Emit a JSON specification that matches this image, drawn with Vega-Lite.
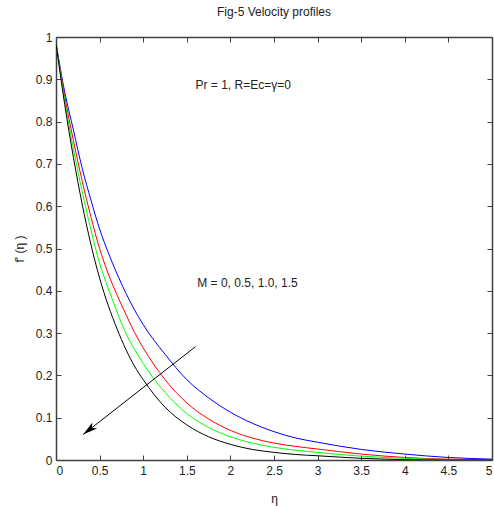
{
  "$schema": "https://vega.github.io/schema/vega-lite/v6.json",
  "width": 436,
  "height": 423,
  "autosize": {"type": "none"},
  "padding": {"left": 56, "top": 37, "right": 2, "bottom": 46},
  "background": "white",
  "title": {"text": "Fig-5 Velocity profiles", "font": "Liberation Sans", "fontSize": 12, "fontWeight": "normal", "color": "#222", "anchor": "middle", "offset": 12},
  "config": {
    "view": {"stroke": null},
    "axis": {"domainColor": "#404040", "tickColor": "#404040", "labelColor": "#222", "labelFont": "Liberation Sans", "labelFontSize": 12, "titleFont": "Liberation Sans", "titleFontSize": 12, "titleFontWeight": "normal", "titleColor": "#222", "grid": false, "tickSize": -5, "domainWidth": 1.5}
  },
  "datasets": {
    "curves": [
      {"M": "0", "eta": 0, "f": 0.985}, {"M": "0", "eta": 0.1, "f": 0.87}, {"M": "0", "eta": 0.2, "f": 0.78}, {"M": "0", "eta": 0.3, "f": 0.69}, {"M": "0", "eta": 0.4, "f": 0.615}, {"M": "0", "eta": 0.5, "f": 0.546}, {"M": "0", "eta": 0.6, "f": 0.49}, {"M": "0", "eta": 0.7, "f": 0.44}, {"M": "0", "eta": 0.8, "f": 0.395}, {"M": "0", "eta": 0.9, "f": 0.355}, {"M": "0", "eta": 1.0, "f": 0.32}, {"M": "0", "eta": 1.25, "f": 0.25}, {"M": "0", "eta": 1.5, "f": 0.19}, {"M": "0", "eta": 1.75, "f": 0.147}, {"M": "0", "eta": 2.0, "f": 0.113}, {"M": "0", "eta": 2.25, "f": 0.087}, {"M": "0", "eta": 2.5, "f": 0.067}, {"M": "0", "eta": 2.75, "f": 0.052}, {"M": "0", "eta": 3.0, "f": 0.042}, {"M": "0", "eta": 3.5, "f": 0.025}, {"M": "0", "eta": 4.0, "f": 0.014}, {"M": "0", "eta": 4.5, "f": 0.006}, {"M": "0", "eta": 5.0, "f": 0.002},
      {"M": "0.5", "eta": 0, "f": 0.985}, {"M": "0.5", "eta": 0.1, "f": 0.86}, {"M": "0.5", "eta": 0.2, "f": 0.755}, {"M": "0.5", "eta": 0.3, "f": 0.66}, {"M": "0.5", "eta": 0.4, "f": 0.575}, {"M": "0.5", "eta": 0.5, "f": 0.5}, {"M": "0.5", "eta": 0.6, "f": 0.44}, {"M": "0.5", "eta": 0.7, "f": 0.39}, {"M": "0.5", "eta": 0.8, "f": 0.345}, {"M": "0.5", "eta": 0.9, "f": 0.302}, {"M": "0.5", "eta": 1.0, "f": 0.265}, {"M": "0.5", "eta": 1.25, "f": 0.19}, {"M": "0.5", "eta": 1.5, "f": 0.135}, {"M": "0.5", "eta": 1.75, "f": 0.097}, {"M": "0.5", "eta": 2.0, "f": 0.07}, {"M": "0.5", "eta": 2.25, "f": 0.052}, {"M": "0.5", "eta": 2.5, "f": 0.04}, {"M": "0.5", "eta": 2.75, "f": 0.032}, {"M": "0.5", "eta": 3.0, "f": 0.026}, {"M": "0.5", "eta": 3.5, "f": 0.014}, {"M": "0.5", "eta": 4.0, "f": 0.006}, {"M": "0.5", "eta": 4.5, "f": 0.002}, {"M": "0.5", "eta": 5.0, "f": 0.001},
      {"M": "1.0", "eta": 0, "f": 0.985}, {"M": "1.0", "eta": 0.1, "f": 0.85}, {"M": "1.0", "eta": 0.2, "f": 0.735}, {"M": "1.0", "eta": 0.3, "f": 0.635}, {"M": "1.0", "eta": 0.4, "f": 0.545}, {"M": "1.0", "eta": 0.5, "f": 0.465}, {"M": "1.0", "eta": 0.6, "f": 0.405}, {"M": "1.0", "eta": 0.7, "f": 0.35}, {"M": "1.0", "eta": 0.8, "f": 0.3}, {"M": "1.0", "eta": 0.9, "f": 0.262}, {"M": "1.0", "eta": 1.0, "f": 0.228}, {"M": "1.0", "eta": 1.25, "f": 0.16}, {"M": "1.0", "eta": 1.5, "f": 0.11}, {"M": "1.0", "eta": 1.75, "f": 0.077}, {"M": "1.0", "eta": 2.0, "f": 0.055}, {"M": "1.0", "eta": 2.25, "f": 0.04}, {"M": "1.0", "eta": 2.5, "f": 0.03}, {"M": "1.0", "eta": 2.75, "f": 0.023}, {"M": "1.0", "eta": 3.0, "f": 0.018}, {"M": "1.0", "eta": 3.5, "f": 0.009}, {"M": "1.0", "eta": 4.0, "f": 0.004}, {"M": "1.0", "eta": 4.5, "f": 0.001}, {"M": "1.0", "eta": 5.0, "f": 0.0},
      {"M": "1.5", "eta": 0, "f": 0.985}, {"M": "1.5", "eta": 0.1, "f": 0.84}, {"M": "1.5", "eta": 0.2, "f": 0.715}, {"M": "1.5", "eta": 0.3, "f": 0.605}, {"M": "1.5", "eta": 0.4, "f": 0.51}, {"M": "1.5", "eta": 0.5, "f": 0.43}, {"M": "1.5", "eta": 0.6, "f": 0.365}, {"M": "1.5", "eta": 0.7, "f": 0.31}, {"M": "1.5", "eta": 0.8, "f": 0.262}, {"M": "1.5", "eta": 0.9, "f": 0.222}, {"M": "1.5", "eta": 1.0, "f": 0.19}, {"M": "1.5", "eta": 1.25, "f": 0.125}, {"M": "1.5", "eta": 1.5, "f": 0.083}, {"M": "1.5", "eta": 1.75, "f": 0.055}, {"M": "1.5", "eta": 2.0, "f": 0.037}, {"M": "1.5", "eta": 2.25, "f": 0.025}, {"M": "1.5", "eta": 2.5, "f": 0.018}, {"M": "1.5", "eta": 2.75, "f": 0.013}, {"M": "1.5", "eta": 3.0, "f": 0.01}, {"M": "1.5", "eta": 3.5, "f": 0.004}, {"M": "1.5", "eta": 4.0, "f": 0.001}, {"M": "1.5", "eta": 4.5, "f": 0.0}, {"M": "1.5", "eta": 5.0, "f": 0.0}
    ],
    "arrow": [{"eta": 1.6, "f": 0.268}, {"eta": 0.31, "f": 0.06}],
    "head": [{"eta": 0.31, "f": 0.06}],
    "notes": [
      {"label": "Pr = 1, R=Ec=γ=0", "eta": 1.6, "f": 0.887},
      {"label": "M = 0, 0.5, 1.0, 1.5", "eta": 1.62, "f": 0.418}
    ]
  },
  "resolve": {"axis": {"x": "independent", "y": "independent"}},
  "layer": [
    {
      "data": {"name": "curves"},
      "mark": {"type": "line", "strokeWidth": 1, "clip": true, "interpolate": "monotone"},
      "encoding": {
        "x": {"field": "eta", "type": "quantitative", "scale": {"domain": [0, 5], "nice": false, "zero": false}, "axis": {"title": "η", "values": [0, 0.5, 1, 1.5, 2, 2.5, 3, 3.5, 4, 4.5, 5], "format": "~g", "labelPadding": 10, "titlePadding": 17}},
        "y": {"field": "f", "type": "quantitative", "scale": {"domain": [0, 1], "nice": false}, "axis": {"title": "f' (η )", "values": [0, 0.1, 0.2, 0.3, 0.4, 0.5, 0.6, 0.7, 0.8, 0.9, 1], "format": "~g", "labelPadding": 9, "titlePadding": 9}},
        "color": {"field": "M", "type": "nominal", "scale": {"domain": ["0", "0.5", "1.0", "1.5"], "range": ["#0000FF", "#FF0000", "#00FF00", "#000000"]}, "legend": null}
      }
    },
    {
      "data": {"name": "arrow"},
      "mark": {"type": "line", "color": "#000000", "strokeWidth": 1},
      "encoding": {
        "x": {"field": "eta", "type": "quantitative", "axis": {"orient": "top", "title": null, "labels": false, "values": [0, 0.5, 1, 1.5, 2, 2.5, 3, 3.5, 4, 4.5, 5]}},
        "y": {"field": "f", "type": "quantitative", "axis": {"orient": "right", "title": null, "labels": false, "values": [0, 0.1, 0.2, 0.3, 0.4, 0.5, 0.6, 0.7, 0.8, 0.9, 1]}}
      }
    },
    {
      "data": {"name": "head"},
      "mark": {"type": "point", "shape": "M0,0L0.35,1.4L0,1.05L-0.35,1.4Z", "filled": true, "color": "#000000", "size": 450, "angle": 232, "opacity": 1},
      "encoding": {
        "x": {"field": "eta", "type": "quantitative", "axis": null},
        "y": {"field": "f", "type": "quantitative", "axis": null}
      }
    },
    {
      "data": {"name": "notes"},
      "mark": {"type": "text", "align": "left", "baseline": "middle", "font": "Liberation Sans", "fontSize": 12, "color": "#222"},
      "encoding": {
        "x": {"field": "eta", "type": "quantitative", "axis": null},
        "y": {"field": "f", "type": "quantitative", "axis": null},
        "text": {"field": "label"}
      }
    }
  ]
}
